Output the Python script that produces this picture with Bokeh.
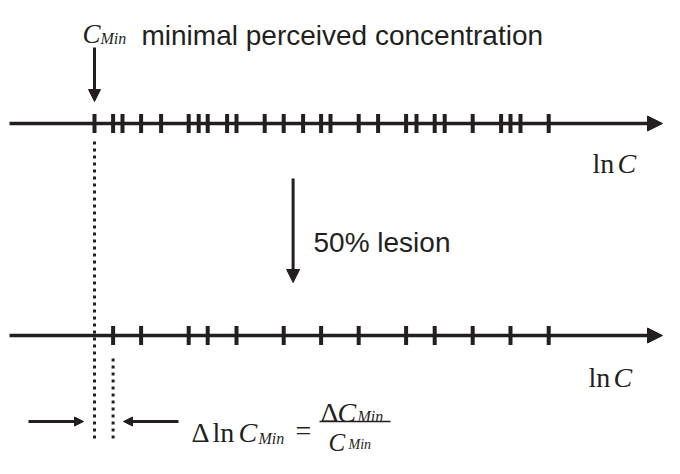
from bokeh.plotting import figure
from bokeh.models import ColumnDataSource, Range1d, Arrow, NormalHead
from bokeh.core.properties import value
from bokeh.embed import file_html
from bokeh.resources import INLINE

# ---- data: receptor thresholds on the ln C axis (arbitrary units, C_min = 0) ----
thresholds_before = [0.0, 0.93, 1.4, 2.33, 3.33, 4.71, 5.21, 5.66, 6.63, 7.1,
                     8.51, 9.46, 10.43, 11.33, 11.8, 13.21, 14.18, 15.58, 16.1,
                     17.01, 17.51, 18.91, 20.33, 20.8, 21.3, 22.71]
thresholds_after = [0.93, 2.33, 4.71, 5.66, 7.1, 9.46, 11.33, 13.21, 15.58,
                    17.01, 18.91, 20.8, 22.71]
axis_labels = ["ln", "C"]
lesion_label = "50% lesion"
top_label = "minimal perceived concentration"

INK = "#231f20"
SERIF = value("Liberation Serif")
SANS = value("Liberation Sans")

# layout (pixel rows, y grows downward)
H = 458
Y_TOP, Y_BOT = 123, 335
TICK_HALF = 9.5
FORM_Y = 421

p = figure(width=664, height=H, output_backend="svg", toolbar_location=None,
           x_range=Range1d(-4.7, 28.5), y_range=Range1d(H, 0),
           min_border=0, outline_line_color=None)
p.axis.visible = False
p.grid.visible = False
p.background_fill_color = "white"

def head(size):
    return NormalHead(size=size, fill_color=INK, line_color=INK, line_width=1)

# axis lines with arrow heads
for yy in (Y_TOP, Y_BOT):
    p.add_layout(Arrow(end=head(15), x_start=-4.25, y_start=yy, x_end=28.4, y_end=yy,
                       line_color=INK, line_width=3.5))

# tick marks (receptor thresholds)
src_b = ColumnDataSource(dict(x=thresholds_before,
                              y0=[Y_TOP - TICK_HALF] * len(thresholds_before),
                              y1=[Y_TOP + TICK_HALF] * len(thresholds_before)))
src_a = ColumnDataSource(dict(x=thresholds_after,
                              y0=[Y_BOT - TICK_HALF] * len(thresholds_after),
                              y1=[Y_BOT + TICK_HALF] * len(thresholds_after)))
for s in (src_b, src_a):
    p.segment(x0="x", y0="y0", x1="x", y1="y1", source=s,
              line_color=INK, line_width=4, line_cap="butt")

cmin = thresholds_before[0]
cmin_after = thresholds_after[0]

# dotted lines
p.segment(x0=[cmin], y0=[141], x1=[cmin], y1=[FORM_Y + 20], line_color=INK,
          line_width=3, line_dash="3 4", line_cap="butt")
p.segment(x0=[cmin_after], y0=[358], x1=[cmin_after], y1=[FORM_Y + 20], line_color=INK,
          line_width=3, line_dash="3 4", line_cap="butt")

# C_min arrow
p.add_layout(Arrow(end=head(12), x_start=cmin, y_start=47, x_end=cmin, y_end=101,
                   line_color=INK, line_width=3))
# lesion arrow
p.add_layout(Arrow(end=head(13), x_start=9.93, y_start=178, x_end=9.93, y_end=282,
                   line_color=INK, line_width=3))
# small horizontal arrows
p.add_layout(Arrow(end=head(9), x_start=cmin - 3.3, y_start=FORM_Y, x_end=cmin - 0.55,
                   y_end=FORM_Y, line_color=INK, line_width=3))
p.add_layout(Arrow(end=head(9), x_start=cmin_after + 3.27, y_start=FORM_Y,
                   x_end=cmin_after + 0.52, y_end=FORM_Y, line_color=INK, line_width=3))

def txt(x, y, s, size, font=SERIF, style="normal", align="left", baseline="alphabetic"):
    p.text(x=[x], y=[y], text=[s], text_font=font, text_font_size=size,
           text_font_style=style, text_color=INK, text_align=align,
           text_baseline=baseline)

# top label
txt(-0.6, 33, "C", "27px", style="italic")
txt(0.3, 38, "Min", "16px", style="italic")
txt(2.35, 35, top_label, "28px", font=SANS)

# ln C labels
txt(24.9, 163, axis_labels[0], "28px")
txt(26.15, 163, axis_labels[1], "28px", style="italic")
txt(24.7, 377, axis_labels[0], "28px")
txt(25.95, 377, axis_labels[1], "28px", style="italic")

# lesion label
txt(10.95, 242, lesion_label, "28px", font=SANS)

# formula
txt(4.85, FORM_Y + 11, "\u0394", "28px")
txt(5.9, FORM_Y + 11, "ln", "28px")
txt(7.2, FORM_Y + 11, "C", "28px", style="italic")
txt(8.2, FORM_Y + 17, "Min", "16px", style="italic")
txt(10.05, FORM_Y + 9, "=", "28px")
p.segment(x0=[11.25], y0=[FORM_Y], x1=[14.8], y1=[FORM_Y], line_color=INK, line_width=1.5)
txt(11.3, FORM_Y - 9, "\u0394", "28px")
txt(12.15, FORM_Y - 9, "C", "28px", style="italic")
txt(13.15, FORM_Y - 5, "Min", "16px", style="italic")
txt(11.7, FORM_Y + 21, "C", "25px", style="italic")
txt(12.7, FORM_Y + 23, "Min", "14px", style="italic")

open("out.html", "w").write(file_html(p, INLINE))
